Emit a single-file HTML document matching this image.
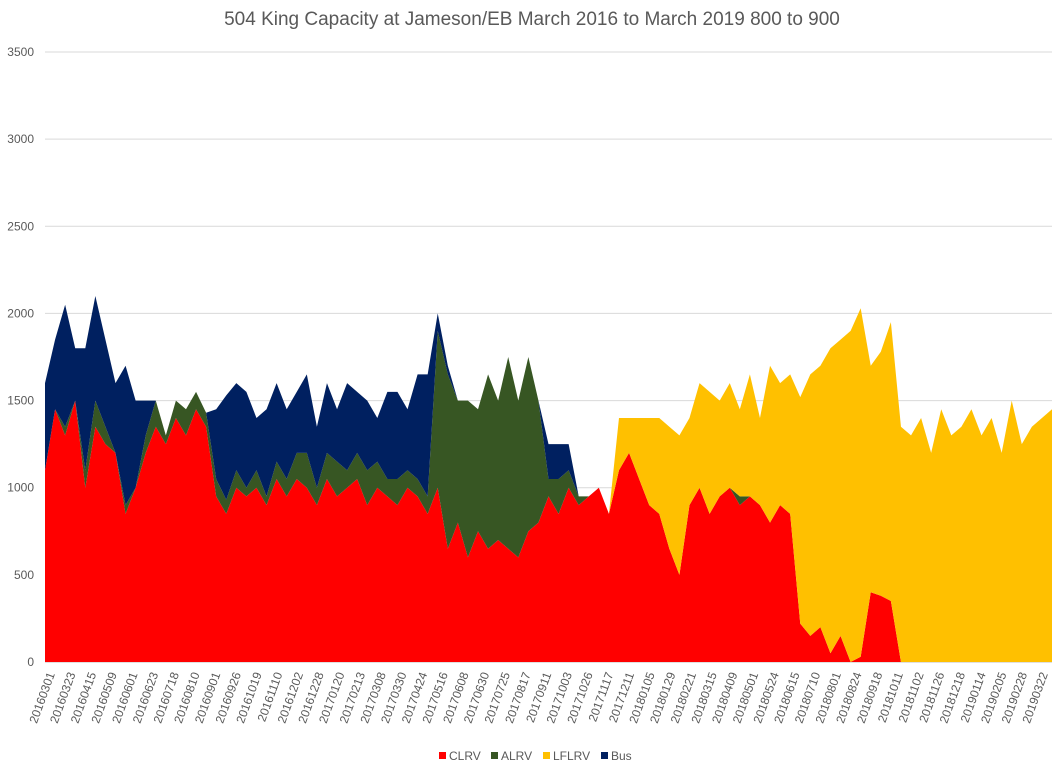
<!DOCTYPE html>
<html><head><meta charset="utf-8"><style>
body{margin:0;background:#fff;}
svg{display:block;font-family:"Liberation Sans",sans-serif;}
</style></head><body>
<svg id="chart" width="1056" height="775" viewBox="0 0 1056 775">
<text x="532" y="25" text-anchor="middle" font-size="19" fill="#595959">504 King Capacity at Jameson/EB March 2016 to March 2019  800 to 900</text>
<g id="grid"></g><g id="areas"></g><g id="yticks"></g><g id="xticks"></g>
<g font-size="12" fill="#595959">
<rect x="439" y="752" width="7" height="7" fill="#ff0000"/><text x="449" y="760">CLRV</text>
<rect x="491" y="752" width="7" height="7" fill="#375623"/><text x="501" y="760">ALRV</text>
<rect x="543" y="752" width="7" height="7" fill="#ffc000"/><text x="553" y="760">LFLRV</text>
<rect x="601" y="752" width="7" height="7" fill="#002060"/><text x="611" y="760">Bus</text>
</g>
</svg>
<script>
const clrv=[1100,1450,1300,1500,1000,1350,1250,1200,850,1000,1200,1350,1250,1400,1300,1450,1350,950,850,1000,950,1000,900,1050,950,1050,1000,900,1050,950,1000,1050,900,1000,950,900,1000,950,850,1000,650,800,600,750,650,700,650,600,750,800,950,850,1000,900,950,1000,850,1100,1200,1050,900,850,650,500,900,1000,850,950,1000,900,950,900,800,900,850,220,150,200,50,150,0,30,400,380,350,0,0,0,0,0,0,0,0,0,0,0,0,0,0,0,0];
const alrv=[0,0,50,0,100,150,100,0,50,0,100,150,50,100,150,100,80,100,80,100,50,100,50,100,100,150,200,100,150,200,100,150,200,150,100,150,100,100,100,900,1000,700,900,700,1000,800,1100,900,1000,700,100,200,100,50,0,0,0,0,0,0,0,0,0,0,0,0,0,0,0,50,0,0,0,0,0,0,0,0,0,0,0,0,0,0,0,0,0,0,0,0,0,0,0,0,0,0,0,0,0,0,0];
const lflrv=[0,0,0,0,0,0,0,0,0,0,0,0,0,0,0,0,0,0,0,0,0,0,0,0,0,0,0,0,0,0,0,0,0,0,0,0,0,0,0,0,0,0,0,0,0,0,0,0,0,0,0,0,0,0,0,0,0,300,200,350,500,550,700,800,500,600,700,550,600,500,700,500,900,700,800,1300,1500,1500,1750,1700,1900,2000,1300,1400,1600,1350,1300,1400,1200,1450,1300,1350,1450,1300,1400,1200,1500,1250,1350,1400,1450];
const bus=[500,400,700,300,700,600,500,400,800,500,200,0,0,0,0,0,0,400,600,500,550,300,500,450,400,350,450,350,400,300,500,350,400,250,500,500,350,600,700,100,50,0,0,0,0,0,0,0,0,0,200,200,150,0,0,0,0,0,0,0,0,0,0,0,0,0,0,0,0,0,0,0,0,0,0,0,0,0,0,0,0,0,0,0,0,0,0,0,0,0,0,0,0,0,0,0,0,0,0,0,0];
const yTicks=[0,500,1000,1500,2000,2500,3000,3500];
const xLabels=["20160301","20160323","20160415","20160509","20160601","20160623","20160718","20160810","20160901","20160926","20161019","20161110","20161202","20161228","20170120","20170213","20170308","20170330","20170424","20170516","20170608","20170630","20170725","20170817","20170911","20171003","20171026","20171117","20171211","20180105","20180129","20180221","20180315","20180409","20180501","20180524","20180615","20180710","20180801","20180824","20180918","20181011","20181102","20181126","20181218","20190114","20190205","20190228","20190322"];
const NS="http://www.w3.org/2000/svg";
const X0=45,X1=1052,Y0=662,YT=52,YMAX=3500;
const n=clrv.length;
const xs=i=>X0+(X1-X0)*i/(n-1);
const ys=v=>Y0-(Y0-YT)*v/YMAX;
const grid=document.getElementById('grid'),yt=document.getElementById('yticks');
yTicks.forEach(v=>{
 const l=document.createElementNS(NS,'line');
 
 
 l.setAttribute('x1',X0);l.setAttribute('x2',X1);l.setAttribute('y1',ys(v));l.setAttribute('y2',ys(v));
 l.setAttribute('stroke',v===0?'#bfbfbf':'#d9d9d9');l.setAttribute('stroke-width','1');
 grid.appendChild(l);
 const t=document.createElementNS(NS,'text');
 
 
 t.setAttribute('x',34);t.setAttribute('y',ys(v)+4);t.setAttribute('text-anchor','end');
 t.setAttribute('font-size','12');t.setAttribute('fill','#595959');t.textContent=v;
 yt.appendChild(t);
});
const series=[[clrv,'#ff0000','area-clrv'],[alrv,'#375623','area-alrv'],[lflrv,'#ffc000','area-lflrv'],[bus,'#002060','area-bus']];
const base=new Array(n).fill(0);
const areas=document.getElementById('areas');
series.forEach(([arr,col,name])=>{
 const top=base.map((b,i)=>b+arr[i]);
 let d='M'+xs(0)+','+ys(top[0]);
 for(let i=1;i<n;i++)d+='L'+xs(i)+','+ys(top[i]);
 for(let i=n-1;i>=0;i--)d+='L'+xs(i)+','+ys(base[i]);
 d+='Z';
 const p=document.createElementNS(NS,'path');
 
 
 p.setAttribute('d',d);p.setAttribute('fill',col);
 areas.appendChild(p);
 for(let i=0;i<n;i++)base[i]=top[i];
});
const xt=document.getElementById('xticks');
const L0=55,L1=1048;
xLabels.forEach((s,i)=>{
 const x=L0+(L1-L0)*i/(xLabels.length-1);
 const t=document.createElementNS(NS,'text');
 
 
 t.setAttribute('x',x);t.setAttribute('y',674);t.setAttribute('text-anchor','end');
 t.setAttribute('font-size','12');t.setAttribute('fill','#595959');
 t.setAttribute('transform','rotate(-70 '+x+' 674)');
 t.textContent=s;xt.appendChild(t);
});
</script>
</body></html>
